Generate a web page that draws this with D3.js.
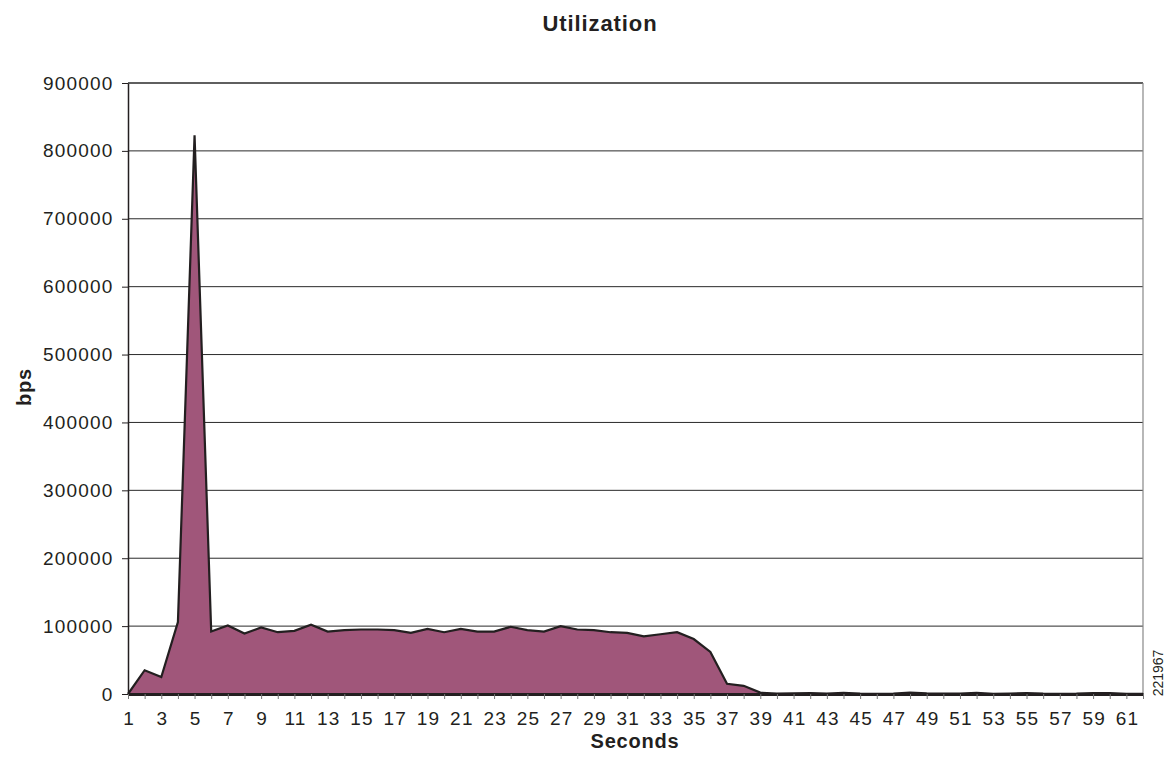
<!DOCTYPE html>
<html><head><meta charset="utf-8">
<script src="https://cdn.jsdelivr.net/npm/d3@7"></script>
<style>body{margin:0;background:#fff}svg{display:block}text{font-family:"Liberation Sans",Arial,sans-serif;fill:#231f20}</style>
</head><body><svg id="c" width="1171" height="757"></svg>
<script>
const seconds = d3.range(1, 63);
const bps = [0, 35000, 25000, 106000, 823000, 92000, 101000, 89000, 98000, 91000,
  93000, 102000, 92000, 94000, 95000, 95000, 94000, 90000, 96000, 91000,
  96000, 92000, 92000, 99000, 94000, 92000, 100000, 95000, 94000, 91000,
  90000, 85000, 88000, 91000, 81000, 62000, 15000, 12000, 2000, 500,
  800, 1500, 500, 1800, 600, 400, 500, 2000, 800, 500,
  600, 1600, 400, 700, 1500, 500, 400, 600, 1500, 1200,
  400, 300];
const yTicks = [0, 100000, 200000, 300000, 400000, 500000, 600000, 700000, 800000, 900000];
const title = "Utilization", xTitle = "Seconds", yTitle = "bps", figId = "221967";

const svg = d3.select("#c");
const L = 128, R = 1143, T = 83, B = 694;
const x = d3.scaleLinear().domain([1, 62]).range([L, R]);
const y = d3.scaleLinear().domain([0, 900000]).range([B, T]);
const data = seconds.map((s, i) => ({s, v: bps[i]}));

// gridlines
svg.append("g").selectAll("line").data(yTicks.filter(d => d > 0)).join("line")
  .attr("x1", L).attr("x2", R).attr("y1", d => y(d)).attr("y2", d => y(d))
  .attr("stroke", "#2a2a2a").attr("stroke-width", d => d === 900000 ? 1.6 : 1);
// right border
svg.append("line").attr("x1", R).attr("x2", R).attr("y1", T).attr("y2", B)
  .attr("stroke", "#888").attr("stroke-width", 1.2);

// area
svg.append("path").datum(data)
  .attr("d", d3.area().x(d => x(d.s)).y0(B).y1(d => y(d.v)))
  .attr("fill", "#a0567a");
svg.append("path").datum(data)
  .attr("d", d3.line().x(d => x(d.s)).y(d => y(d.v)))
  .attr("fill", "none").attr("stroke", "#231f20").attr("stroke-width", 2.2).attr("stroke-linejoin", "miter");

// y axis
const ya = svg.append("g").attr("transform", `translate(${L},0)`)
  .call(d3.axisLeft(y).tickValues(yTicks).tickFormat(d3.format("d")).tickSize(6).tickSizeOuter(0).tickPadding(8.5));
ya.selectAll("text").style("font-size", "19px").style("letter-spacing", "1.2px").attr("fill", "#231f20");
ya.selectAll("line,path").attr("stroke", "#231f20");
ya.select(".domain").attr("stroke-width", 1.5);

// x axis
const xa = svg.append("g").attr("transform", `translate(0,${B})`)
  .call(d3.axisBottom(x).tickValues(seconds).tickFormat(d => d % 2 === 1 ? d : "").tickSize(5).tickSizeOuter(0).tickPadding(12.7));
xa.selectAll("text").style("font-size", "19px").style("letter-spacing", "1.2px").attr("fill", "#231f20")
  .attr("dx", "0.6px");
xa.selectAll(".tick line").attr("stroke", "#777");
xa.select(".domain").attr("stroke", "#231f20").attr("stroke-width", 3);

// titles
svg.append("text").attr("x", 600).attr("y", 31).attr("text-anchor", "middle")
  .style("font-size", "22px").style("font-weight", "bold").style("letter-spacing", "0.9px").text(title);
svg.append("text").attr("x", 635).attr("y", 748).attr("text-anchor", "middle")
  .style("font-size", "20px").style("font-weight", "bold").style("letter-spacing", "0.8px").text(xTitle);
svg.append("text").attr("transform", "translate(31,387) rotate(-90)").attr("text-anchor", "middle")
  .style("font-size", "20px").style("font-weight", "bold").style("letter-spacing", "0.8px").text(yTitle);
svg.append("text").attr("transform", "translate(1163,673) rotate(-90)").attr("text-anchor", "middle")
  .style("font-size", "14px").text(figId);
</script></body></html>
